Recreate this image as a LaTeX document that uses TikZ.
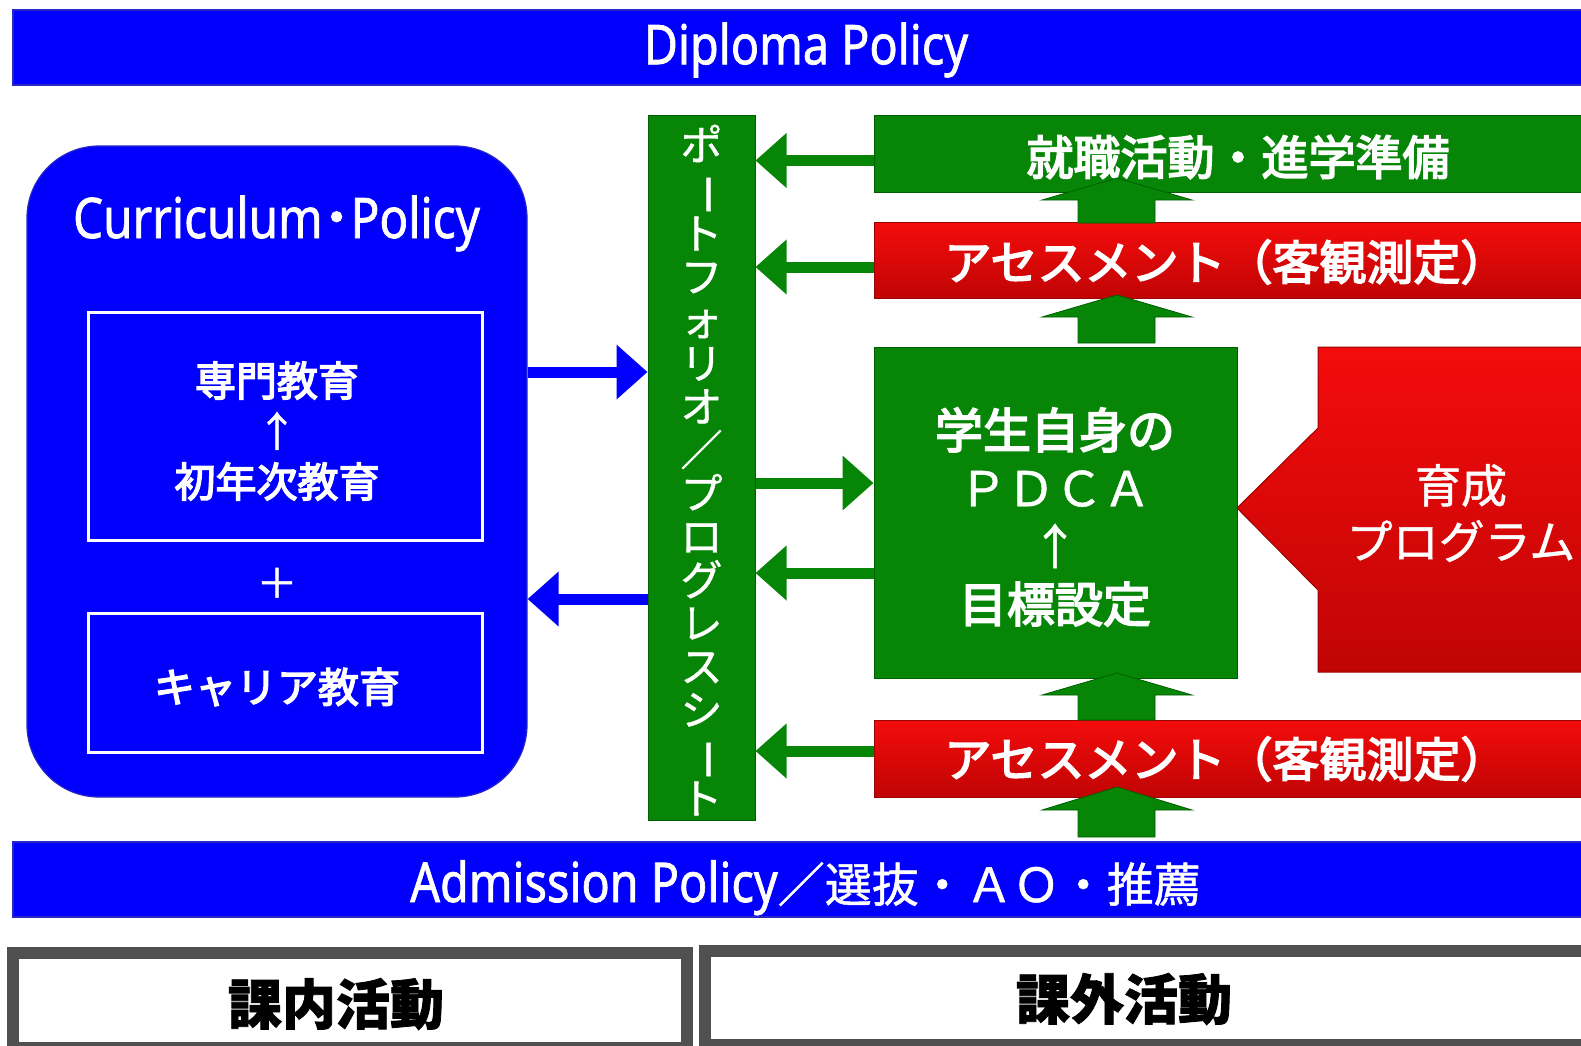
\documentclass[tikz,border=0pt]{standalone}
\usepackage{fontspec}
\usepackage{graphicx}
\usetikzlibrary{arrows.meta}
\newfontfamily\jp{Noto Sans CJK JP}
\newfontfamily\jpb[FakeBold=3.5]{Noto Sans CJK JP}
\newfontfamily\jpm[FakeBold=1]{Noto Sans CJK JP}
\newfontfamily\jpheavy[BoldFeatures={FakeBold=1.5}]{Noto Sans CJK JP}
\newfontfamily\cond[FakeStretch=0.85,FakeBold=1.2]{Noto Sans}
\definecolor{pblue}{RGB}{0,0,252}
\definecolor{pblueedge}{RGB}{40,40,200}
\definecolor{pgreen}{RGB}{6,133,6}
\definecolor{pgreendk}{RGB}{0,95,0}
\definecolor{predtop}{RGB}{244,12,12}
\definecolor{predbot}{RGB}{192,4,4}
\definecolor{pgray}{RGB}{80,80,80}
\newcommand\myuparrow[3]{%
  \fill[pgreen, draw=pgreendk, line width=0.8pt] (1078,#3) -- (1078,#2) -- (1042,#2) -- (1117,#1) -- (1192,#2) -- (1155,#2) -- (1155,#3) -- cycle;}
\begin{document}
\begin{tikzpicture}[x=1pt,y=-1pt,
  bluebar/.style={fill=pblue, draw=pblueedge, line width=1.2pt, inner sep=0pt},
  gbox/.style={fill=pgreen, draw=pgreendk, line width=1pt, inner sep=0pt},
  rbox/.style={top color=predtop, bottom color=predbot, draw=predbot!80!black, line width=1pt, inner sep=0pt},
  wtext/.style={text=white, inner sep=0pt, align=center},
  garrow/.style={pgreen, line width=11pt, -{Triangle[length=31pt,width=53pt]}},
  barrow/.style={pblue, line width=11pt, -{Triangle[length=31pt,width=53pt]}},
  actbox/.style={draw=pgray, line width=12pt, fill=white, inner sep=0pt}
]
\useasboundingbox (0,0) rectangle (1581,1045);

% top and bottom policy bars
\node[bluebar, minimum width=1587pt, minimum height=75pt] (dip) at (806.5,47.5) {};
\node[wtext, font=\cond\fontsize{55pt}{60pt}\selectfont] (diptext) at (806,50) {Diploma Policy};
\node[bluebar, minimum width=1587pt, minimum height=75pt] (adm) at (806.5,879.5) {};
\node[wtext, anchor=base] (admtext) at (805.5,902) {\cond\fontsize{55pt}{60pt}\selectfont Admission Policy\jpm\fontsize{47pt}{52pt}\selectfont ／選抜・ＡＯ・推薦};

% curriculum policy
\node[bluebar, rounded corners=72pt, minimum width=500pt, minimum height=651pt] (cp) at (277,471.5) {};
\node[wtext, anchor=base] (cptitle) at (276.5,238) {\cond\fontsize{56pt}{60pt}\selectfont Curriculum\jpb ･\cond Policy};
\node[draw=white, line width=3pt, minimum width=394pt, minimum height=228pt, inner sep=0pt] (spec) at (285,426) {};
\node[wtext, font=\jpb\fontsize{41pt}{50.5pt}\selectfont] (spectext) at (277,431) {専門教育\\{\jpm ↑}\\初年次教育};
\node[wtext, font=\jpm\fontsize{41pt}{50pt}\selectfont] (plus) at (277,583) {＋};
\node[draw=white, line width=3pt, minimum width=394pt, minimum height=139pt, inner sep=0pt] (career) at (285,682.5) {};
\node[wtext, font=\jpb\fontsize{41pt}{50pt}\selectfont] (careertext) at (277,687) {キャリア教育};

% portfolio
\node[gbox, minimum width=107pt, minimum height=705pt] (pf) at (701.5,467.5) {};
\node[wtext, font=\jpm\fontsize{42pt}{43.3pt}\selectfont] (pftext) at (701.5,470) {ポ\\\rotatebox[origin=c]{-90}{ー}\\ト\\フ\\ォ\\リ\\オ\\／\\プ\\ロ\\グ\\レ\\ス\\シ\\\rotatebox[origin=c]{-90}{ー}\\ト};

% right column
\node[gbox, minimum width=726pt, minimum height=77pt] (jb) at (1237,153.5) {};
\node[wtext, font=\jpb\fontsize{47pt}{50pt}\selectfont] (jbtext) at (1238,157) {就職活動・進学準備};
\node[rbox, minimum width=726pt, minimum height=76pt] (as1) at (1237,260) {};
\node[wtext, font=\jpb\fontsize{47pt}{50pt}\selectfont] (as1text) at (1226,262) {アセスメント（客観測定）};
\node[gbox, minimum width=363pt, minimum height=331pt] (pdca) at (1055.5,512.5) {};
\node[wtext, font=\jpb\fontsize{48pt}{58pt}\selectfont] (pdcatext) at (1055,517) {学生自身の\\{\jpm ＰＤＣＡ}\\{\jpm ↑}\\目標設定};
\node[rbox, minimum width=726pt, minimum height=77pt] (as2) at (1237,758.5) {};
\node[wtext, font=\jpb\fontsize{47pt}{50pt}\selectfont] (as2text) at (1226,759) {アセスメント（客観測定）};

% training program pentagon
\path[top color=predtop, bottom color=predbot, draw=predbot!80!black, line width=1pt]
  (1318,347) -- (1600,347) -- (1600,672) -- (1318,672) -- (1318,590) -- (1237,508) -- (1318,428) -- cycle;
\node[wtext, font=\jpm\fontsize{46pt}{56pt}\selectfont] (prog) at (1461,513) {育成\\プログラム};

% block up arrows
\myuparrow{178}{200}{223}
\myuparrow{295}{317}{343}
\myuparrow{673}{695}{720}
\myuparrow{787}{810}{837}

% horizontal arrows
\coordinate (ya) at (0,160.5);
\coordinate (yb) at (0,267);
\coordinate (yc) at (0,483);
\coordinate (yd) at (0,573);
\coordinate (ye) at (0,751);
\coordinate (yf) at (0,372);
\coordinate (yg) at (0,599);
\draw[garrow] (jb.west |- ya) -- (pf.east |- ya);
\draw[garrow] (as1.west |- yb) -- (pf.east |- yb);
\draw[garrow] (pf.east |- yc) -- (pdca.west |- yc);
\draw[garrow] (pdca.west |- yd) -- (pf.east |- yd);
\draw[garrow] (as2.west |- ye) -- (pf.east |- ye);
\draw[barrow] (cp.east |- yf) -- (pf.west |- yf);
\draw[barrow] (pf.west |- yg) -- (cp.east |- yg);

% activity boxes
\node[actbox, minimum width=673.5pt, minimum height=95pt] (inact) at (349.75,1000.5) {};
\node[inner sep=0pt, font=\jpheavy\bfseries\fontsize{54pt}{60pt}\selectfont] (intext) at (336,1004) {課内活動};
\node[actbox, minimum width=895pt, minimum height=94.5pt] (outact) at (1152.5,997.75) {};
\node[inner sep=0pt, font=\jpheavy\bfseries\fontsize{54pt}{60pt}\selectfont] (outtext) at (1124,999) {課外活動};
\end{tikzpicture}
\end{document}
